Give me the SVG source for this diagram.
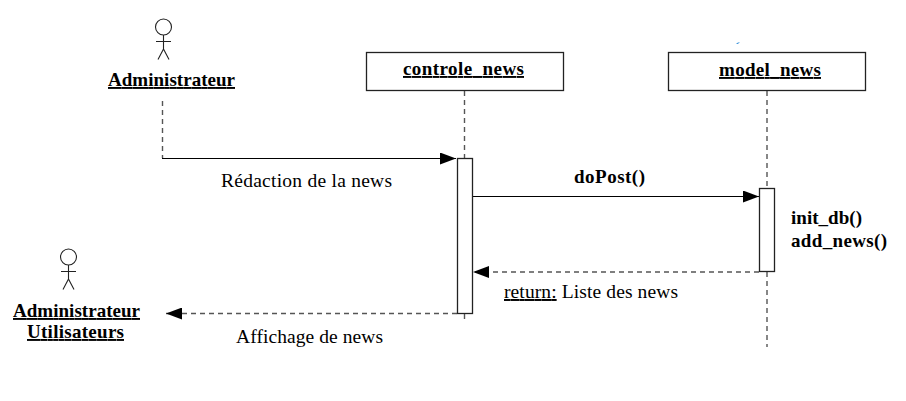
<svg xmlns="http://www.w3.org/2000/svg" width="906" height="401" viewBox="0 0 906 401">
<style>
text{font-family:"Liberation Serif","Times New Roman",serif;fill:#000}
.t{font-size:19.500px}
.b{font-size:19px;font-weight:bold}
.u{font-size:19px;font-weight:bold;text-decoration:underline}
.box{fill:#fff;stroke:#222;stroke-width:1.3}
.act{fill:#fff;stroke:#222;stroke-width:1.3}
.fig{fill:none;stroke:#222;stroke-width:1.1}
.solid{fill:none;stroke:#000;stroke-width:1.2}
.dash{fill:none;stroke:#555;stroke-width:1.4;stroke-dasharray:5 4}
.life{fill:none;stroke:#555;stroke-width:1.4;stroke-dasharray:5 4}
</style>
<defs>
<marker id="head" markerUnits="userSpaceOnUse" markerWidth="17" markerHeight="12" refX="16" refY="6" orient="auto"><path d="M0 0L16 6L0 12Z" fill="#000"/></marker>
</defs>
<g id="connectors">
<path class="life" d="M162.500 101V158"/>
<path class="life" d="M464.500 91V158"/>
<path class="life" d="M464.500 314V320"/>
<path class="life" d="M767 91V189"/>
<path class="life" d="M767 272V347"/>
<path class="solid" d="M162 158.500H456" marker-end="url(#head)"/>
<path class="solid" d="M472 196.500H759" marker-end="url(#head)"/>
<path class="dash" d="M759 272H473" marker-end="url(#head)"/>
<path class="dash" d="M457 313.500H166" marker-end="url(#head)"/>
</g>
<g id="actor-administrateur">
<circle class="fig" cx="163.500" cy="27" r="8"/>
<path class="fig" d="M163.500 35V49M156 41.500H171M163.500 49L158 59.500M163.500 49L169 59.500"/>
<text class="u" x="108" y="86" textLength="127" lengthAdjust="spacing">Administrateur</text>
</g>
<g id="actor-utilisateurs">
<circle class="fig" cx="68.500" cy="257" r="8"/>
<path class="fig" d="M68.500 265V279M61 271.500H76M68.500 279L63 289.500M68.500 279L74 289.500"/>
<text class="u" x="13" y="317" textLength="127" lengthAdjust="spacing">Administrateur</text>
<text class="u" x="27" y="338" textLength="97" lengthAdjust="spacing">Utilisateurs</text>
</g>
<g id="controle_news">
<rect class="box" x="366.500" y="52.500" width="197" height="38"/>
<text class="u" x="403" y="75" textLength="121" lengthAdjust="spacing">controle_news</text>
<rect class="act" x="457.500" y="158.500" width="15" height="155"/>
</g>
<g id="model_news">
<rect class="box" x="668.500" y="52.500" width="197" height="38"/>
<text class="u" x="719" y="76" textLength="102" lengthAdjust="spacing">model_news</text>
<rect class="act" x="759.500" y="188.500" width="15" height="83"/>
</g>
<path d="M736 44L738 42.500L740 42.500L737.500 44Z" fill="#2a8ad8"/>
<g id="labels">
<text class="t" x="221" y="187" textLength="171" lengthAdjust="spacing">Rédaction de la news</text>
<text class="b" x="574" y="183" textLength="71" lengthAdjust="spacing">doPost()</text>
<text class="b" x="791" y="224" textLength="71" lengthAdjust="spacing">init_db()</text>
<text class="b" x="791" y="247" textLength="96" lengthAdjust="spacing">add_news()</text>
<text class="t" x="504" y="298" textLength="174" lengthAdjust="spacing"><tspan text-decoration="underline">return:</tspan> Liste des news</text>
<text class="t" x="236" y="343" textLength="147" lengthAdjust="spacing">Affichage de news</text>
</g>
</svg>
